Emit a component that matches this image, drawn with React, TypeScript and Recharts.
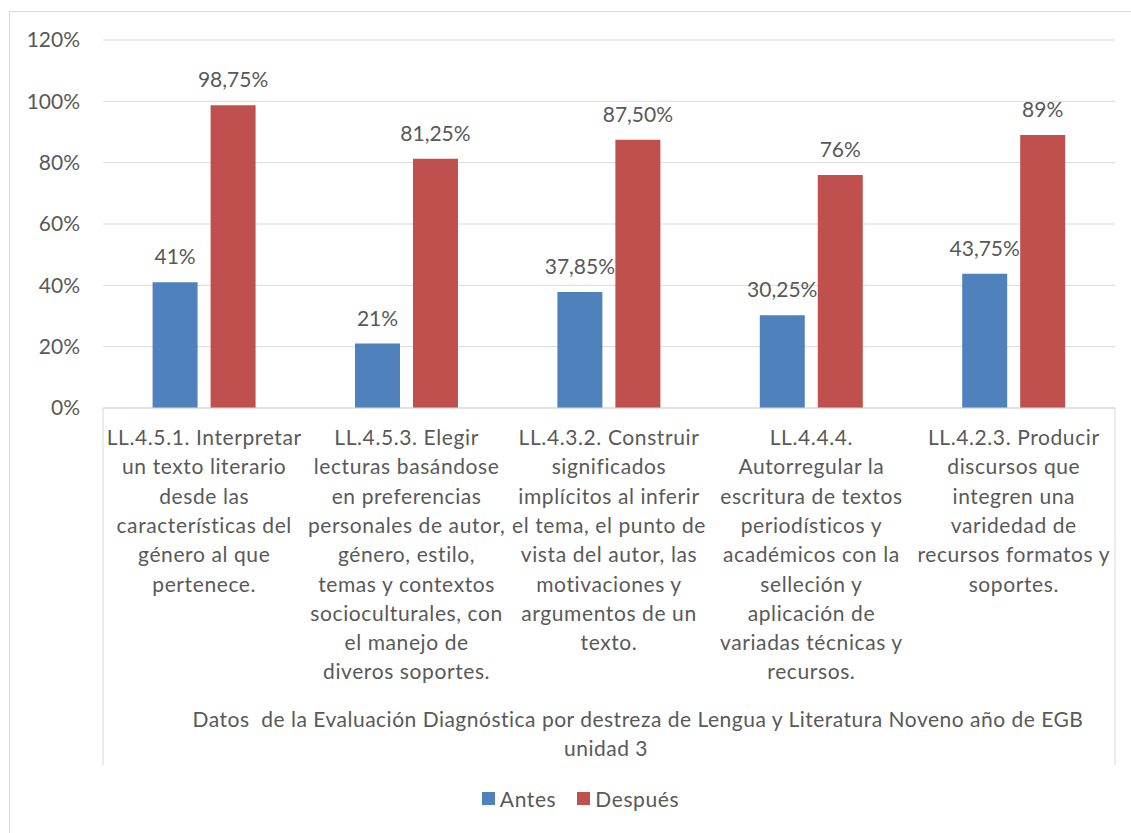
import React from 'react';
import { BarChart, Bar, XAxis, YAxis, CartesianGrid, Legend, LabelList, Label } from 'recharts';

const categories = [
    'LL.4.5.1. Interpretar\nun texto literario\ndesde las\ncaracterísticas del\ngénero al que\npertenece.',
    'LL.4.5.3. Elegir\nlecturas basándose\nen preferencias\npersonales de autor,\ngénero, estilo,\ntemas y contextos\nsocioculturales, con\nel manejo de\ndiveros soportes.',
    'LL.4.3.2. Construir\nsignificados\nimplícitos al inferir\nel tema, el punto de\nvista del autor, las\nmotivaciones y\nargumentos de un\ntexto.',
    'LL.4.4.4.\nAutorregular la\nescritura de textos\nperiodísticos y\nacadémicos con la\nselleción y\naplicación de\nvariadas técnicas y\nrecursos.',
    'LL.4.2.3. Producir\ndiscursos que\nintegren una\nvaridedad de\nrecursos formatos y\nsoportes.',
];
const antes = [0.41, 0.21, 0.3785, 0.3025, 0.4375];
const despues = [0.9875, 0.8125, 0.875, 0.76, 0.89];
const antesLabels = ['41%', '21%', '37,85%', '30,25%', '43,75%'];
const despuesLabels = ['98,75%', '81,25%', '87,50%', '76%', '89%'];
const yTicks = [0, 0.2, 0.4, 0.6, 0.8, 1, 1.2];
const axisCaption = ['Datos  de la Evaluación Diagnóstica por destreza de Lengua y Literatura Noveno año de EGB', 'unidad 3'];

const FONT = 'Lato, "Open Sans", sans-serif';
const FS = 21;
const TEXT = '#595959';
const GRID = '#d9d9d9';
const BLUE = '#4F81BD';
const RED = '#C0504D';

const data = categories.map((name, i) => ({
    name,
    antes: antes[i],
    despues: despues[i],
    antesLabel: antesLabels[i],
    despuesLabel: despuesLabels[i],
}));

const CategoryTick = (props: any) => {
    const { x, y, payload } = props;
    const lines = String(payload.value).split('\n');
    return (
        <text x={x} y={y + 29} textAnchor="middle" fill={TEXT} fontSize={FS} fontFamily={FONT} letterSpacing={0.6}>
            {lines.map((l, i) => (
                <tspan key={i} x={x} dy={i === 0 ? 0 : 29.3}>{l}</tspan>
            ))}
        </text>
    );
};

// caption under the category labels, plus the two side rules of the label box
const AxisCaption = (props: any) => {
    const vb = props.viewBox || {};
    const { x, y, width, height } = vb;
    const cx = x + width / 2;
    return (
        <g>
            <line x1={x} y1={y} x2={x} y2={y + height} stroke={GRID} />
            <line x1={x + width} y1={y} x2={x + width} y2={y + height} stroke={GRID} />
            <text x={cx} y={y + 319} textAnchor="middle" fill={TEXT} fontSize={FS} fontFamily={FONT} letterSpacing={0.5} style={{ whiteSpace: 'pre' }}>
                {axisCaption.map((l, i) => (
                    <tspan key={i} x={i === 0 ? cx + 29 : cx - 3} dy={i === 0 ? 0 : 29.3}>{l}</tspan>
                ))}
            </text>
        </g>
    );
};

const LegendContent = (props: any) => {
    const { payload = [] } = props;
    return (
        <div style={{ display: 'flex', justifyContent: 'center', alignItems: 'center', fontFamily: FONT, fontSize: FS, color: TEXT, letterSpacing: 0.6, paddingLeft: 30 }}>
            {payload.map((p: any, i: number) => (
                <span key={i} style={{ display: 'flex', alignItems: 'center', marginRight: i === 0 ? 21 : 0 }}>
                    <span style={{ display: 'inline-block', width: 13, height: 13, background: p.color, marginRight: 5 }} />
                    {p.value}
                </span>
            ))}
        </div>
    );
};

export default function App() {
    return (
        <div style={{ position: 'fixed', left: 0, top: 0, width: 1131, height: 833, background: '#fff', overflow: 'hidden' }}>
            <div style={{ position: 'absolute', left: 9, top: 11, width: 1140, height: 840, border: `1px solid ${GRID}`, boxSizing: 'border-box' }} />
            <div style={{ position: 'absolute', left: 0, top: 0 }}>
                <BarChart
                    width={1131}
                    height={833}
                    data={data}
                    margin={{ top: 40, right: 16, left: 0, bottom: 68 }}
                    barGap={13}
                    barCategoryGap="24.5%"
                >
                    <CartesianGrid vertical={false} stroke={GRID} />
                    <YAxis
                        width={103}
                        domain={[0, 1.2]}
                        ticks={yTicks}
                        axisLine={false}
                        tickLine={false}
                        tickMargin={17}
                        tick={{ fill: TEXT, fontSize: FS, fontFamily: FONT }}
                        tickFormatter={(v: number) => `${Math.round(v * 100)}%`}
                    />
                    <XAxis
                        dataKey="name"
                        height={357}
                        interval={0}
                        tickLine={false}
                        axisLine={{ stroke: GRID }}
                        tick={<CategoryTick />}
                    >
                        <Label content={<AxisCaption />} />
                    </XAxis>
                    <Legend
                        verticalAlign="middle"
                        align="center"
                        content={<LegendContent />}
                        wrapperStyle={{ top: 786, left: 0, width: 1131 }}
                    />
                    <Bar dataKey="antes" name="Antes" fill={BLUE} isAnimationActive={false}>
                        <LabelList dataKey="antesLabel" position="top" offset={18} fill={TEXT} fontSize={FS} fontFamily={FONT} />
                    </Bar>
                    <Bar dataKey="despues" name="Después" fill={RED} isAnimationActive={false}>
                        <LabelList dataKey="despuesLabel" position="top" offset={18} fill={TEXT} fontSize={FS} fontFamily={FONT} />
                    </Bar>
                </BarChart>
            </div>
        </div>
    );
}
